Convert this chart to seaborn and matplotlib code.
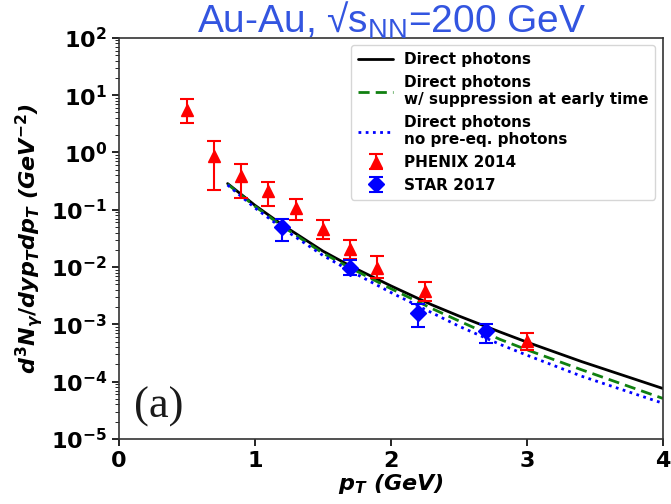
import matplotlib
matplotlib.use("Agg")
import matplotlib.pyplot as plt
import seaborn as sns
import pandas as pd

# ---- data ----
pt_curve = [0.8, 1.0, 1.2, 1.5, 1.7, 2.0, 2.3, 2.5, 2.8, 3.0, 3.4, 4.0]
direct = [0.286, 0.12, 0.055, 0.019, 0.0105, 0.0047, 0.0022, 0.0014, 7.4e-4, 4.9e-4, 2.25e-4, 7.6e-5]
direct_suppr = [0.28, 0.115, 0.052, 0.0175, 0.0097, 0.0042, 0.0019, 0.00115, 5.5e-4, 3.6e-4, 1.62e-4, 5.1e-5]
direct_nopreeq = [0.27, 0.108, 0.048, 0.0160, 0.0086, 0.0036, 0.0016, 0.00093, 4.5e-4, 2.9e-4, 1.25e-4, 4.2e-5]

phenix_pt = [0.5, 0.7, 0.9, 1.1, 1.3, 1.5, 1.7, 1.9, 2.25, 3.0]
phenix_y = [5.5, 0.88, 0.39, 0.215, 0.108, 0.046, 0.0205, 0.0097, 0.0038, 0.00052]
phenix_lo = [3.2, 0.22, 0.163, 0.114, 0.067, 0.031, 0.0140, 0.0065, 0.0026, 0.00036]
phenix_hi = [8.5, 1.56, 0.64, 0.31, 0.151, 0.067, 0.0300, 0.0156, 0.0055, 0.00072]

star_pt = [1.2, 1.7, 2.2, 2.7]
star_y = [0.049, 0.0098, 0.0016, 0.00076]
star_lo = [0.029, 0.0072, 0.00089, 0.00047]
star_hi = [0.070, 0.0135, 0.0023, 0.0010]

labels = ["Direct photons",
          "Direct photons\nw/ suppression at early time",
          "Direct photons\nno pre-eq. photons"]

sns.set_style("ticks")
plt.rcParams.update({
    "font.family": ["DejaVu Sans"],
    "font.weight": "bold",
    "text.color": "black",
    "axes.labelcolor": "black",
    "xtick.color": "black",
    "ytick.color": "black",
    "mathtext.fontset": "custom",
    "mathtext.rm": "DejaVu Sans:bold",
    "mathtext.it": "DejaVu Sans:bold:italic",
    "mathtext.bf": "DejaVu Sans:bold",
    "axes.edgecolor": "0.2",
    "axes.linewidth": 1.2,
})

fig = plt.figure(figsize=(6.71, 5.04), dpi=100)
ax = fig.add_axes([0.177, 0.129, 0.811, 0.796])

curves = pd.DataFrame({
    "pt": pt_curve * 3,
    "y": direct + direct_suppr + direct_nopreeq,
    "model": [labels[0]] * len(pt_curve) + [labels[1]] * len(pt_curve) + [labels[2]] * len(pt_curve),
})
styles = [("black", "-"), ("#108010", (0, (4, 2.2))), ("blue", (0, (1, 1.6)))]
for lab, (c, ls) in zip(labels, styles):
    sub = curves[curves["model"] == lab]
    sns.lineplot(data=sub, x="pt", y="y", ax=ax, color=c, linestyle=ls,
                 linewidth=2, label=lab)

ph_err = [[y - l for y, l in zip(phenix_y, phenix_lo)], [h - y for y, h in zip(phenix_y, phenix_hi)]]
st_err = [[y - l for y, l in zip(star_y, star_lo)], [h - y for y, h in zip(star_y, star_hi)]]
ax.errorbar(phenix_pt, phenix_y, yerr=ph_err, fmt="^", color="red", ms=8.5,
            capsize=5, elinewidth=1.5, capthick=1.5, label="PHENIX 2014")
ax.errorbar(star_pt, star_y, yerr=st_err, fmt="D", color="blue", ms=8.5,
            capsize=5, elinewidth=1.5, capthick=1.5, label="STAR 2017")

ax.set_yscale("log")
ax.set_xlim(0, 4)
ax.set_ylim(1e-5, 1e2)
ax.set_xticks([0, 1, 2, 3, 4])
ax.tick_params(axis="both", labelsize=16, width=1.2, length=5, colors="black")
ax.tick_params(axis="y", which="minor", length=3)
for t in ax.get_xticklabels() + ax.get_yticklabels():
    t.set_fontweight("bold")

ax.set_xlabel(r"$p_T$ (GeV)", fontsize=16, fontweight="bold", fontstyle="italic", labelpad=1)
ax.set_ylabel(r"$d^3N_\gamma/dyp_Tdp_T$ (GeV$^{-2}$)", fontsize=16, fontweight="bold",
              fontstyle="italic", labelpad=4)

ax.legend(loc="upper right", handlelength=2.3, frameon=True,
          prop={"weight": "bold", "size": 11}, labelspacing=0.5, borderpad=0.45,
          handletextpad=0.7)

ax.text(0.074, 0.08, "(a)", transform=ax.transAxes, fontsize=32,
        family=["Liberation Serif", "DejaVu Serif"], fontweight="normal",
        ha="center", va="center", color="0.1")

fig.text(0.583, 0.936, r"Au-Au, √s$_{\mathregular{NN}}$=200 GeV", fontsize=28,
         family=["Liberation Sans", "DejaVu Sans"], fontweight="normal",
         color="#3355e0", ha="center", va="baseline")

fig.savefig("out.png", dpi=100)
